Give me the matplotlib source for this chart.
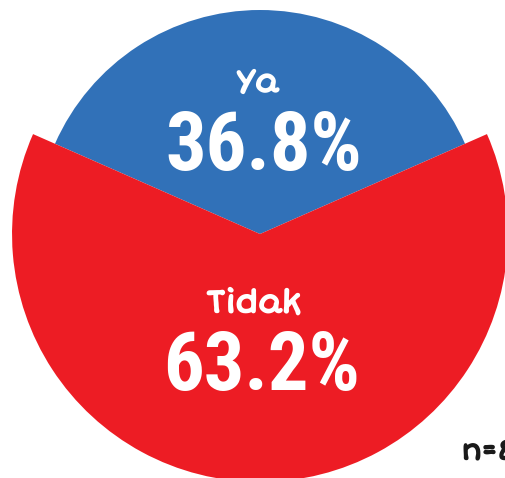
import matplotlib
matplotlib.use("Agg")
from matplotlib import pyplot as plt
from matplotlib import patheffects as pe

# Data
labels = ['Ya', 'Tidak']
values = [36.8, 63.2]
colors = ['#3171B8', '#ED1C24']
radii = [1.0, 1.107]
n_text = 'n=87'

hand_fonts = ['Short Stack', 'Patrick Hand', 'Comic Neue', 'Lato', 'DejaVu Sans']
narrow_fonts = ['Roboto Condensed', 'Archivo Narrow', 'PT Sans Narrow',
                'Barlow Condensed', 'DejaVu Sans']

fig = plt.figure(figsize=(5.06, 4.78), dpi=100)
ax = fig.add_axes([0, 0, 1, 1])

wedges, _ = ax.pie(values, colors=colors, startangle=90 - values[0] / 100 * 180,
                   wedgeprops=dict(linewidth=0))
for w, r in zip(wedges, radii):
    w.set_radius(r)
# red slice sits over the blue one
wedges[0].set_zorder(2)
wedges[1].set_zorder(3)

# thicken the handwritten font a bit
white_bold = [pe.withStroke(linewidth=1.4, foreground='white')]
black_bold = [pe.withStroke(linewidth=1.3, foreground='#1a1a1a')]

label_pos = [(-0.01, 0.67), (-0.027, -0.315)]
pct_pos = [(0.018, 0.385), (0.007, -0.597)]
for lab, val, (lx, ly), (px, py) in zip(labels, values, label_pos, pct_pos):
    ax.text(lx, ly, lab, ha='center', va='center', color='white',
            fontsize=23, family=hand_fonts, zorder=5, path_effects=white_bold)
    ax.text(px, py, f'{val}%', ha='center', va='center', color='white',
            fontsize=58, fontweight='bold', family=narrow_fonts, zorder=5)

ax.text(0.902, -0.975, n_text, ha='left', va='center', color='#1a1a1a',
        fontsize=20, family=hand_fonts, zorder=5, path_effects=black_bold)

ax.set_xlim(-260 / 224, 246 / 224)
ax.set_ylim(-244 / 224, 234 / 224)
ax.set_aspect('equal')
ax.axis('off')

fig.savefig('out.png', dpi=100)
